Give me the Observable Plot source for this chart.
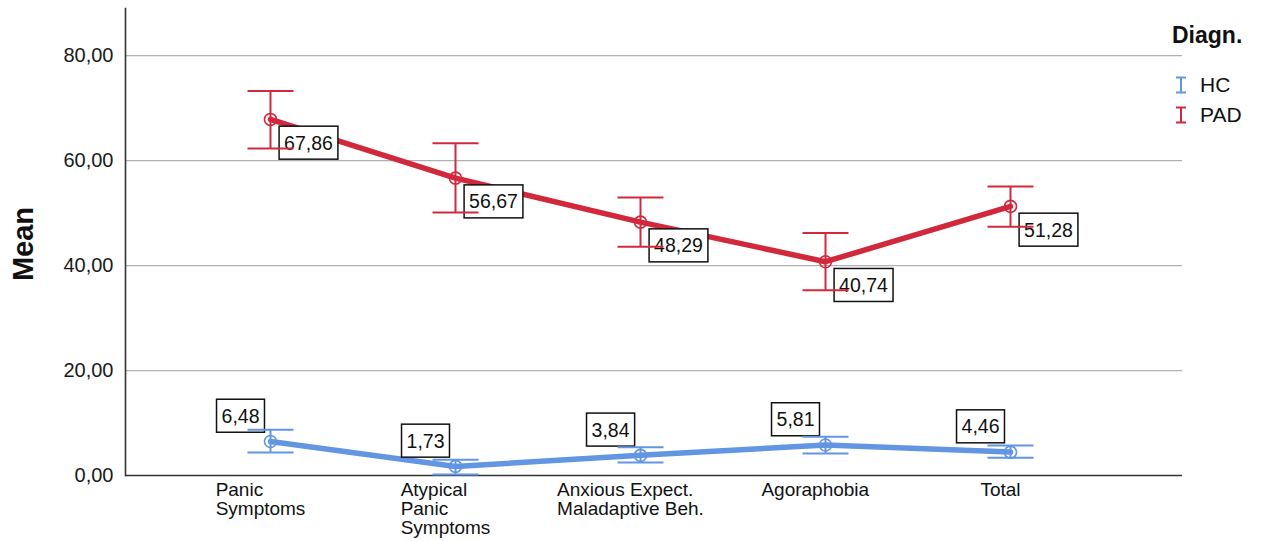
<!DOCTYPE html>
<html><head><meta charset="utf-8">
<script src="https://cdn.jsdelivr.net/npm/d3@7"></script>
<script src="https://cdn.jsdelivr.net/npm/@observablehq/plot@0.6"></script>
<style>
body{margin:0;background:#fff;font-family:"Liberation Sans",Arial,sans-serif;}
#wrap{position:relative;width:1262px;height:541px;overflow:hidden;}
#legend{position:absolute;left:1172px;top:22px;color:#111;}
#legend .title{font-weight:bold;font-size:23px;line-height:26px;margin-bottom:22px;}
#legend .item{display:flex;align-items:center;height:30px;font-size:21px;}
#legend .item svg{margin-right:13px;margin-left:3px;}
</style></head><body><div id="wrap"><div id="legend"></div></div>
<script>
const categories = ["Panic\nSymptoms", "Atypical\nPanic\nSymptoms", "Anxious Expect.\nMaladaptive Beh.", "Agoraphobia", "Total"];
const groups = ["HC", "PAD"];
const hcMean = [6.48, 1.73, 3.84, 5.81, 4.46];
const hcLow = [4.4, 0.2, 2.5, 4.2, 3.4];
const hcHigh = [8.7, 3.0, 5.4, 7.4, 5.7];
const padMean = [67.86, 56.67, 48.29, 40.74, 51.28];
const padLow = [62.3, 50.1, 43.6, 35.3, 47.4];
const padHigh = [73.3, 63.3, 53.0, 46.2, 55.1];
const yTicks = [0, 20, 40, 60, 80];
const colors = ["#6295E2", "#D2283C"];
const legendTitle = "Diagn.";
const yLabel = "Mean";

const fmt = d => d.toFixed(2).replace(".", ",");
const hcRows = categories.map((c, i) => ({cat: c, group: "HC", mean: hcMean[i], low: hcLow[i], high: hcHigh[i]}));
const padRows = categories.map((c, i) => ({cat: c, group: "PAD", mean: padMean[i], low: padLow[i], high: padHigh[i]}));
const rows = [...hcRows, ...padRows];

// horizontal cap symbol for error bars
const capHalf = 23;
const capSymbol = {draw(ctx) { ctx.moveTo(-capHalf, 0); ctx.lineTo(capHalf, 0); }};

const plot = Plot.plot({
  width: 1262, height: 541,
  marginLeft: 125, marginRight: 80, marginTop: 8, marginBottom: 66,
  style: {fontFamily: "Liberation Sans, Arial, sans-serif", fontSize: "20px", color: "#1a1a1a", background: "#fff"},
  x: {type: "point", domain: categories, padding: 0, insetLeft: 143, insetRight: 171, axis: null},
  y: {domain: [0, 89], axis: null},
  color: {domain: groups, range: colors},
  marks: [
    Plot.ruleY(yTicks.filter(d => d > 0), {stroke: "#b0b0b0", strokeWidth: 1.3}),
    Plot.ruleY([0], {stroke: "#333", strokeWidth: 1.6}),
    Plot.frame({anchor: "left", stroke: "#333", strokeWidth: 1.6}),
    Plot.axisY({ticks: yTicks, tickFormat: fmt, tickSize: 0, tickPadding: 12, label: null, fontSize: 20}),
    Plot.text([yLabel], {frameAnchor: "left", textAnchor: "middle", rotate: -90, dx: -102, dy: 2, fontWeight: "bold", fontSize: 29, fill: "#111"}),
    Plot.text(categories, {x: d => d, text: d => d, frameAnchor: "bottom", lineAnchor: "top", dx: -10, dy: 7, textAnchor: "start", lineHeight: 1, fontSize: 19, fill: "#111", className: "xlab"}),
    Plot.line(rows, {x: "cat", y: "mean", z: "group", stroke: "group", strokeWidth: 5.5}),
    Plot.text(padRows, {x: "cat", y: "mean", text: d => fmt(d.mean), dx: 38, dy: 24, fontSize: 19.5, fill: "#111", className: "vbox"}),
    Plot.text(hcRows, {x: "cat", y: "mean", text: d => fmt(d.mean), dx: -30, dy: -25, fontSize: 19.5, fill: "#111", className: "vbox"}),
    Plot.ruleX(rows, {x: "cat", y1: "low", y2: "high", stroke: "group", strokeWidth: 2}),
    Plot.dot(rows, {x: "cat", y: "low", stroke: "group", strokeWidth: 2, symbol: capSymbol, fill: "none"}),
    Plot.dot(rows, {x: "cat", y: "high", stroke: "group", strokeWidth: 2, symbol: capSymbol, fill: "none"}),
    Plot.dot(rows, {x: "cat", y: "mean", stroke: "group", r: 6, strokeWidth: 1.6, fill: "none"})
  ]
});
const wrap = document.getElementById("wrap");
wrap.insertBefore(plot, wrap.firstChild);

// boxes behind value labels
plot.querySelectorAll("g.vbox text").forEach(t => {
  const b = t.getBBox();
  const r = document.createElementNS("http://www.w3.org/2000/svg", "rect");
  r.setAttribute("x", b.x - 5);
  r.setAttribute("y", b.y + b.height / 2 - 16.5);
  r.setAttribute("width", b.width + 10);
  r.setAttribute("height", 33);
  r.setAttribute("fill", "#fff");
  r.setAttribute("stroke", "#111");
  r.setAttribute("stroke-width", 1.5);
  if (t.getAttribute("transform")) r.setAttribute("transform", t.getAttribute("transform"));
  t.parentNode.insertBefore(r, t);
});
// category labels: left-aligned lines, block centered on the category
plot.querySelectorAll("g.xlab text").forEach(t => {
  const w = t.getBBox().width;
  t.setAttribute("transform", (t.getAttribute("transform") || "") + ` translate(${-w / 2},0)`);
});

// legend
const legend = document.getElementById("legend");
const title = document.createElement("div");
title.className = "title";
title.textContent = legendTitle;
legend.appendChild(title);
groups.forEach((g, i) => {
  const item = document.createElement("div");
  item.className = "item";
  item.innerHTML = `<svg width="12" height="18"><path d="M1,1.5H11M6,1.5V16.5M1,16.5H11" fill="none" stroke="${colors[i]}" stroke-width="2"/></svg><span>${g}</span>`;
  legend.appendChild(item);
});
</script></body></html>
